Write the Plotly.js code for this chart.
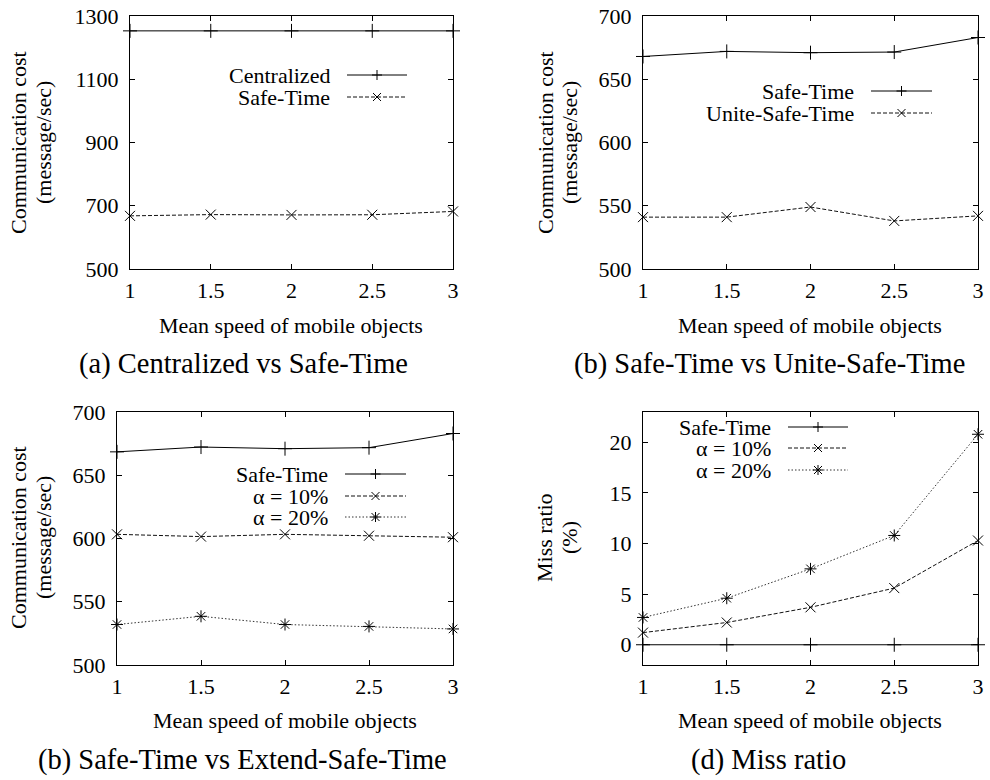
<!DOCTYPE html>
<html>
<head>
<meta charset="utf-8">
<script src="https://cdn.plot.ly/plotly-3.0.1.min.js"></script>
<style>html,body{margin:0;padding:0;background:#fff;}#chart{width:990px;height:780px;}</style>
</head>
<body>
<div id="chart"></div>
<script>
// ---------- data ----------
const speeds = [1, 1.5, 2, 2.5, 3];
const speedTicks = ["1", "1.5", "2", "2.5", "3"];

// (a) Centralized vs Safe-Time
const centralized = [1253, 1253, 1253, 1253, 1253];
const safeTimeA = [668, 672, 671, 671.5, 682];

// (b) Safe-Time vs Unite-Safe-Time
const safeTimeB = [668, 672, 671, 671.5, 683];
const uniteSafeTime = [541, 541, 549, 538, 542];

// (c) Safe-Time vs Extend-Safe-Time
const safeTimeC = [668.5, 672.3, 671, 671.8, 683];
const alpha10Cost = [603.3, 601.5, 603.3, 602.2, 601];
const alpha20Cost = [532, 538.5, 532, 530.5, 528.5];

// (d) Miss ratio
const safeTimeMiss = [0, 0, 0, 0, 0];
const alpha10Miss = [1.2, 2.2, 3.7, 5.6, 10.3];
const alpha20Miss = [2.7, 4.6, 7.5, 10.8, 20.8];

const costTicksA = [500, 700, 900, 1100, 1300];
const costTicksB = [500, 550, 600, 650, 700];
const missTicks = [0, 5, 10, 15, 20];

const captions = ["(a) Centralized vs Safe-Time", "(b) Safe-Time vs Unite-Safe-Time",
                  "(b) Safe-Time vs Extend-Safe-Time", "(d) Miss ratio"];
const xTitle = "Mean speed of mobile objects";
const costTitle = ["Communication cost", "(message/sec)"];
const missTitle = ["Miss ratio", "(%)"];

// ---------- styles ----------
const W = 990, H = 780;
const FONT = "Liberation Serif";
const styles = {
  solid:  {dash: "solid", symbol: "cross-thin", color: "#000"},
  dashed: {dash: "4px,2px", symbol: "x-thin", color: "#111"},
  dotted: {dash: "1.5px,2px", symbol: "asterisk", color: "#333"}
};
const px = x => x / W;
const py = y => 1 - y / H;

function trace(x, y, st, axn) {
  const s = styles[st];
  return {
    x: x, y: y, type: "scatter", mode: "lines+markers",
    xaxis: "x" + (axn === 1 ? "" : axn), yaxis: "y" + (axn === 1 ? "" : axn),
    line: {color: s.color, width: 1, dash: s.dash},
    marker: {symbol: s.symbol, size: 10, color: "#000", line: {color: "#000", width: 1}},
    cliponaxis: false, showlegend: false, hoverinfo: "x+y"
  };
}

const data = [
  trace(speeds, centralized, "solid", 1),
  trace(speeds, safeTimeA, "dashed", 1),
  trace(speeds, safeTimeB, "solid", 2),
  trace(speeds, uniteSafeTime, "dashed", 2),
  trace(speeds, safeTimeC, "solid", 3),
  trace(speeds, alpha10Cost, "dashed", 3),
  trace(speeds, alpha20Cost, "dotted", 3),
  trace(speeds, safeTimeMiss, "solid", 4),
  trace(speeds, alpha10Miss, "dashed", 4),
  trace(speeds, alpha20Miss, "dotted", 4)
];

// ---------- axes ----------
function xax(domain, anchor) {
  return {domain: domain, anchor: anchor, range: [1, 3], tickvals: speeds, ticktext: speedTicks,
    ticks: "inside", ticklen: 5, tickcolor: "#000", showline: true, mirror: "ticks",
    linecolor: "#000", linewidth: 1, showgrid: false, zeroline: false,
    tickfont: {family: FONT, size: 22, color: "#000"}, ticklabelstandoff: 2, fixedrange: true};
}
function yax(domain, anchor, range, tickvals) {
  return {domain: domain, anchor: anchor, range: range, tickvals: tickvals,
    ticks: "inside", ticklen: 5, tickcolor: "#000", showline: true, mirror: "ticks",
    linecolor: "#000", linewidth: 1, showgrid: false, zeroline: false,
    tickfont: {family: FONT, size: 22, color: "#000"}, ticklabelstandoff: 6, fixedrange: true};
}

const topY = [py(269), py(16)];
const botY = [py(665), py(412)];

const layout = {
  width: W, height: H, margin: {l: 0, r: 0, t: 0, b: 0},
  paper_bgcolor: "#fff", plot_bgcolor: "#fff",
  font: {family: FONT, color: "#000", size: 22},
  showlegend: false,
  xaxis: xax([px(130), px(453)], "y"),
  yaxis: yax(topY, "x", [500, 1300], costTicksA),
  xaxis2: xax([px(643), px(978)], "y2"),
  yaxis2: yax(topY, "x2", [500, 700], costTicksB),
  xaxis3: xax([px(117), px(453)], "y3"),
  yaxis3: yax(botY, "x3", [500, 700], costTicksB),
  xaxis4: xax([px(643), px(978)], "y4"),
  yaxis4: yax(botY, "x4", [-2, 23], missTicks),
  annotations: [], shapes: []
};

function ann(text, x, y, opts) {
  layout.annotations.push(Object.assign({text: text, x: px(x), y: py(y), xref: "paper", yref: "paper",
    showarrow: false, xanchor: "center", yanchor: "middle",
    font: {family: FONT, size: 22, color: "#000"}}, opts || {}));
}

// axis titles
ann(xTitle, 291, 325); ann(xTitle, 810, 325);
ann(xTitle, 285, 720); ann(xTitle, 810, 720);
[[18, 43, 143], [545, 569, 143], [18, 43, 538]].forEach(p => {
  ann(costTitle[0], p[0], p[2], {textangle: -90});
  ann(costTitle[1], p[1], p[2], {textangle: -90});
});
ann(missTitle[0], 544, 538, {textangle: -90});
ann(missTitle[1], 569, 538, {textangle: -90});

// captions
const capFont = {family: FONT, size: 28.5, color: "#000"};
ann(captions[0], 243, 364, {font: capFont});
ann(captions[1], 769, 364, {font: capFont});
ann(captions[2], 242, 760, {font: capFont});
ann(captions[3], 768, 760, {font: capFont});

// gnuplot-style legends (text right, sample line with marker)
function seg(x0, y0, x1, y1, color, dash) {
  layout.shapes.push({type: "line", xref: "paper", yref: "paper",
    x0: px(x0), y0: py(y0), x1: px(x1), y1: py(y1),
    line: {color: color, width: 1, dash: dash || "solid"}});
}
function legendMarker(sym, cx, cy) {
  const r = 5;
  if (sym === "cross-thin" || sym === "asterisk") {
    seg(cx - r, cy, cx + r, cy, "#000"); seg(cx, cy - r, cx, cy + r, "#000");
  }
  if (sym === "x-thin" || sym === "asterisk") {
    const d = r * 0.8;
    seg(cx - d, cy - d, cx + d, cy + d, "#000"); seg(cx - d, cy + d, cx + d, cy - d, "#000");
  }
}
function legend(entries, textRight, lx0, lx1, rows) {
  entries.forEach((e, i) => {
    const s = styles[e[1]];
    ann(e[0], textRight, rows[i], {xanchor: "right", height: 20});
    seg(lx0, rows[i], lx1, rows[i], s.color, s.dash);
    legendMarker(s.symbol, (lx0 + lx1) / 2, rows[i]);
  });
}
legend([["Centralized", "solid"], ["Safe-Time", "dashed"]], 332, 347, 407, [75, 97]);
legend([["Safe-Time", "solid"], ["Unite-Safe-Time", "dashed"]], 856, 871, 932, [91, 113]);
legend([["Safe-Time", "solid"], ["α = 10%", "dashed"], ["α = 20%", "dotted"]], 330, 345, 406, [474, 496, 517]);
legend([["Safe-Time", "solid"], ["α = 10%", "dashed"], ["α = 20%", "dotted"]], 773, 788, 848, [427, 448, 470]);

Plotly.newPlot("chart", data, layout, {staticPlot: true, displayModeBar: false});
</script>
</body>
</html>
